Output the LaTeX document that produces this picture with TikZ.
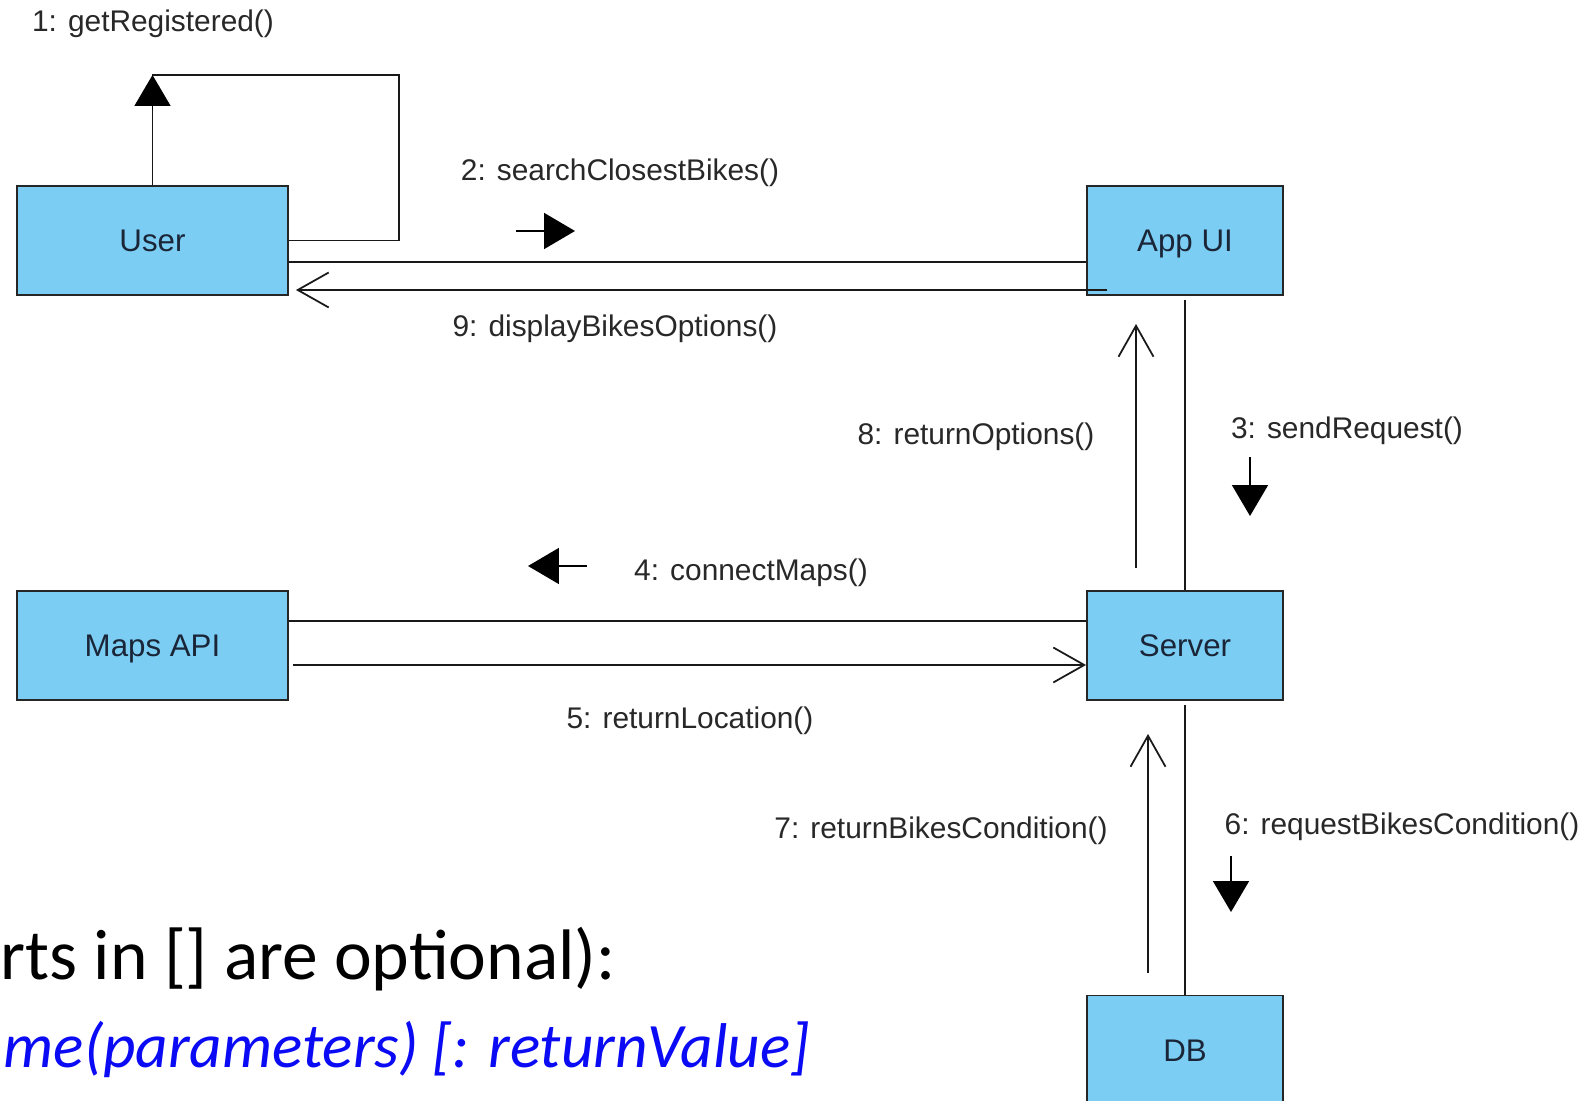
\documentclass[tikz,border=0pt]{standalone}
\usepackage{fontspec}
\setmainfont{Liberation Sans}
\newfontfamily\slidefont{Carlito}
\usetikzlibrary{arrows.meta}
\definecolor{boxblue}{RGB}{124,205,243}
\definecolor{boxtext}{RGB}{26,38,56}
\definecolor{msgtext}{RGB}{40,40,40}
\definecolor{slideblue}{RGB}{10,10,245}

\begin{document}
\begin{tikzpicture}[x=0.02cm, y=-0.02cm,
  obj/.style={draw=black!85, line width=1.1pt, fill=boxblue, minimum height=2.18cm, text=boxtext, text height=12.7pt, text depth=0pt, font=\fontsize{17.8}{20}\selectfont},
  wideobj/.style={obj, minimum width=5.42cm},
  narrowobj/.style={obj, minimum width=3.92cm},
  link/.style={line width=1pt, black!90},
  reply/.style={link, -{Straight Barb[length=0.62cm, width=0.7cm]}},
  dir/.style={line width=1pt, -{Triangle[length=0.62cm, width=0.72cm]}},
  msg/.style={text=msgtext, font=\fontsize{17}{20}\selectfont}]
\useasboundingbox (0,0) rectangle (1593,1101);

\node[wideobj] (user) at (152.5,240.5) {User};
\node[narrowobj] (appui) at (1185,240.5) {App UI};
\node[wideobj] (maps) at (152.5,645.5) {Maps API};
\node[narrowobj] (server) at (1185,645.5) {Server};
\node[narrowobj] (db) at (1185,1050) {DB};

\coordinate (loop) at (399,75);
\draw[link] (user.north) |- (loop) |- (user.east);
\draw[dir] (152.5,110) -- (152.5,75);
\node[msg] (lab1) at (153,24) {1: getRegistered()};

\draw[link] ([yshift=-0.43cm]user.east) -- ([yshift=-0.43cm]appui.west);
\draw[reply] ([xshift=0.42cm, yshift=-0.99cm]appui.west) -- ([xshift=0.14cm, yshift=-0.99cm]user.east);
\node[msg] (lab2) at (620,173) {2: searchClosestBikes()};
\coordinate (d2) at (516,231);
\draw[dir] (d2) -- ++(59,0);
\node[msg] (lab9) at (615,329) {9: displayBikesOptions()};

\draw[link] ([yshift=-0.08cm]appui.south) -- (server.north);
\draw[reply] ([xshift=-0.98cm, yshift=0.44cm]server.north) -- ([xshift=-0.98cm, yshift=-0.56cm]appui.south);
\node[msg] (lab8) at (976,437) {8: returnOptions()};
\node[msg] (lab3) at (1347,431) {3: sendRequest()};
\coordinate (d3) at (1250,457);
\draw[dir] (d3) -- ++(0,59);

\draw[link] ([yshift=0.49cm]maps.east) -- ([yshift=0.49cm]server.west);
\draw[reply] ([xshift=0.08cm, yshift=-0.39cm]maps.east) -- ([yshift=-0.39cm]server.west);
\node[msg] (lab4) at (751,573) {4: connectMaps()};
\coordinate (d4) at (587,566);
\draw[dir] (d4) -- ++(-59,0);
\node[msg] (lab5) at (690,721) {5: returnLocation()};

\draw[link] ([yshift=-0.08cm]server.south) -- (db.north);
\draw[reply] ([xshift=-0.74cm, yshift=0.44cm]db.north) -- ([xshift=-0.74cm, yshift=-0.66cm]server.south);
\node[msg] (lab7) at (941,831) {7: returnBikesCondition()};
\node[msg] (lab6) at (1402,827) {6: requestBikesCondition()};
\coordinate (d6) at (1231,856);
\draw[dir] (d6) -- ++(0,56);

\node[anchor=base east, font=\slidefont\fontsize{40.7}{48}\selectfont, inner sep=0pt] (note1) at (616,979) {rts in [] are optional):};
\node[anchor=base east, font=\slidefont\itshape\fontsize{36}{42}\selectfont, text=slideblue, inner sep=0pt] (note2) at (810,1067) {me(parameters) [: returnValue]};
\end{tikzpicture}
\end{document}
